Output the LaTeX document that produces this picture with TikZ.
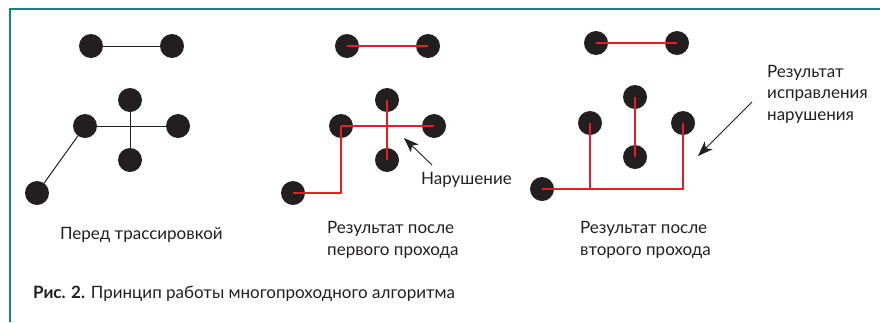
\documentclass[tikz,border=0pt]{standalone}
\usepackage{fontspec}
\setmainfont{Lato}
\usetikzlibrary{arrows.meta,backgrounds}
\definecolor{frameteal}{RGB}{22,132,122}
\definecolor{ink}{RGB}{35,31,32}
\definecolor{trace}{RGB}{236,28,36}
\tikzset{
  pin/.style={circle,fill=ink,minimum size=24pt,inner sep=0pt},
  wire/.style={draw=ink,line width=1pt},
  route/.style={draw=trace,line width=2.4pt},
  pointer/.style={draw=ink,line width=0.9pt,-{Stealth[length=15pt,width=11pt,inset=4pt]}},
  label/.style={anchor=base west,inner sep=0pt,text=ink,font=\fontsize{17}{21.5}\selectfont,align=left}
}
\begin{document}
\begin{tikzpicture}[x=1pt,y=-1pt]
\useasboundingbox (0,0) rectangle (880,322);
\begin{scope}[on background layer]
\fill[white] (0,0) rectangle (880,322);
\end{scope}
% frame
\draw[frameteal,line width=2.2pt] (10,322) -- (10,9) -- (880,9);

% ---- before routing
\node[pin] (a1) at (91,46) {};
\node[pin] (b1) at (172,46) {};
\node[pin] (t1) at (130,100) {};
\node[pin] (l1) at (85,126) {};
\node[pin] (r1) at (178,126) {};
\node[pin] (d1) at (130,160) {};
\node[pin] (s1) at (37,193) {};
\begin{scope}[on background layer]
\draw[wire] (a1.center) -- (b1.center);
\draw[wire] (l1.center) -- (r1.center);
\draw[wire] (t1.center) -- (d1.center);
\draw[wire] (s1.center) -- (l1.center);
\end{scope}
\node[label] (cap1) at (60,239) {Перед трассировкой};

% ---- after the first pass
\node[pin] (a2) at (347,46) {};
\node[pin] (b2) at (428,46) {};
\node[pin] (t2) at (387,100) {};
\node[pin] (l2) at (341,126) {};
\node[pin] (r2) at (434,126) {};
\node[pin] (d2) at (387,160) {};
\node[pin] (s2) at (293,193) {};
\draw[route] (a2.center) -- (b2.center);
\draw[route] (l2.center) -- (r2.center);
\draw[route] (t2.center) -- (d2.center);
\draw[route] (s2.center) -| (l2.center);
\node[label] (cap2) at (327,255) {Результат после\\первого прохода};
\node[label] (viol) at (421,184) {Нарушение};
\coordinate (v0) at (432,165);
\coordinate (v1) at (404,138);
\draw[pointer] (v0) -- (v1);

% ---- after the second pass
\node[pin] (a3) at (596,43) {};
\node[pin] (b3) at (677,43) {};
\node[pin] (t3) at (635,97) {};
\node[pin] (l3) at (590,123) {};
\node[pin] (r3) at (683,123) {};
\node[pin] (d3) at (635,157) {};
\node[pin] (s3) at (542,189) {};
\draw[route] (a3.center) -- (b3.center);
\draw[route] (t3.center) -- (d3.center);
\draw[route] (s3.center) -| (r3.center);
\draw[route] (l3.center) -- (l3 |- s3);
\node[label] (cap3) at (580,255) {Результат после\\второго прохода};
\node[label] (fix) at (767,120) {Результат\\исправления\\нарушения};
\coordinate (f0) at (752,102);
\coordinate (f1) at (698,156);
\draw[pointer] (f0) -- (f1);

% ---- caption
\node[label,font=\fontsize{17}{20}\selectfont] (title) at (33,298) {\textbf{Рис. 2.} Принцип работы многопроходного алгоритма};
\end{tikzpicture}
\end{document}
